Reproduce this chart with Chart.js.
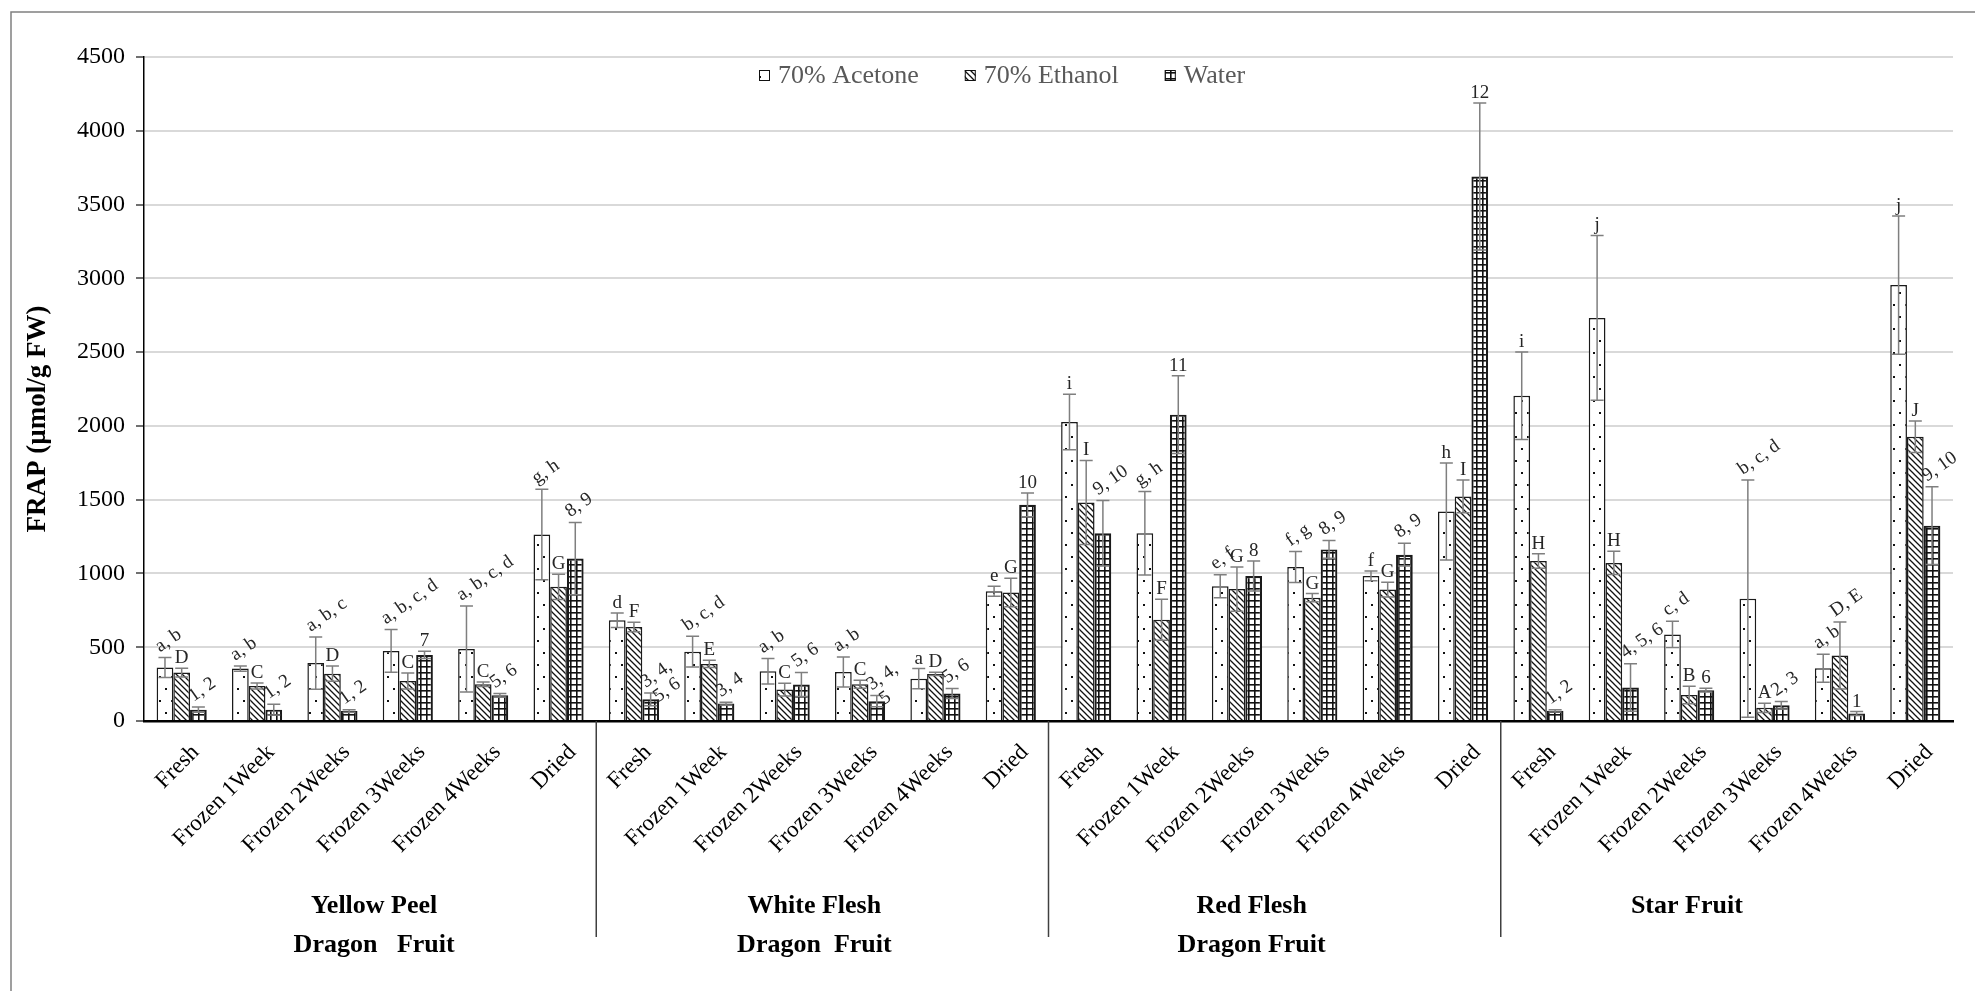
<!DOCTYPE html>
<html>
<head>
<meta charset="utf-8">
<script src="https://cdn.jsdelivr.net/npm/chart.js@4.4.1/dist/chart.umd.min.js"></script>
<style>
  html, body { margin: 0; padding: 0; background: #fff; }
  canvas { display: block; }
</style>
</head>
<body>
<canvas id="frapChart" width="1975" height="991"></canvas>
<script>
const stages = ['Fresh', 'Frozen 1Week', 'Frozen 2Weeks', 'Frozen 3Weeks', 'Frozen 4Weeks', 'Dried']
const categories = [...stages, ...stages, ...stages, ...stages]
const groups = [['Yellow Peel', 'Dragon   Fruit'], ['White Flesh', 'Dragon  Fruit'], ['Red Flesh', 'Dragon Fruit'], ['Star Fruit']]
const groupNudge = [4, -8, -23, -40]
const yTicks = [0, 500, 1000, 1500, 2000, 2500, 3000, 3500, 4000, 4500]

const seriesNames = ['70% Acetone', '70% Ethanol', 'Water']

const acetone = [362, 355, 393, 475, 488, 1264, 683, 470, 337, 332, 287, 879, 2026, 1273, 913, 1044, 983, 1420, 2204, 2732, 587, 829, 357, 2954]
const acetoneErr = [68, 18, 177, 145, 292, 307, 49, 104, 86, 102, 68, 34, 188, 283, 78, 105, 33, 329, 296, 559, 89, 804, 95, 469]
const ethanol = [328, 237, 321, 271, 249, 909, 637, 387, 213, 249, 319, 871, 1481, 686, 894, 836, 891, 1522, 1084, 1071, 176, 89, 444, 1926]
const ethanolErr = [30, 20, 52, 54, 15, 86, 32, 25, 43, 27, 11, 96, 285, 139, 150, 28, 50, 111, 49, 79, 59, 31, 227, 107]
const water = [77, 77, 68, 448, 174, 1101, 147, 118, 247, 134, 186, 1465, 1273, 2076, 983, 1163, 1127, 3690, 69, 227, 209, 107, 51, 1324]
const waterErr = [18, 36, 8, 24, 12, 245, 43, 9, 81, 38, 34, 81, 222, 263, 102, 60, 77, 498, 8, 161, 13, 26, 13, 263]

const acetoneLetters = ['a, b', 'a, b', 'a, b, c', 'a, b, c, d', 'a, b, c, d', 'g, h',
    'd', 'b, c, d', 'a, b', 'a, b', 'a', 'e',
    'i', 'g, h', 'e, f', 'f, g', 'f', 'h',
    'i', 'j', 'c, d', 'b, c, d', 'a, b', 'j']
const ethanolLetters = ['D', 'C', 'D', 'C', 'C', 'G',
    'F', 'E', 'C', 'C', 'D', 'G',
    'I', 'F', 'G', 'G', 'G', 'I',
    'H', 'H', 'B', 'A', 'D, E', 'J']
const waterLetters = ['1, 2', '1, 2', '1, 2', '7', '5, 6', '8, 9',
    '3, 4,\n5, 6', '3, 4', '5, 6', '3, 4,\n5', '5, 6', '10',
    '9, 10', '11', '8', '8, 9', '8, 9', '12',
    '1, 2', '4, 5, 6', '6', '2, 3', '1', '9, 10']

const errors = [acetoneErr, ethanolErr, waterErr]
const letters = [acetoneLetters, ethanolLetters, waterLetters]
const serif = '"Liberation Serif", "Times New Roman", serif'

function makePattern(kind) {
    const c = document.createElement('canvas')
    const p = c.getContext('2d')
    if (kind === 'dots') {
        c.width = 12; c.height = 24
        p.fillStyle = '#fff'; p.fillRect(0, 0, 12, 24)
        p.fillStyle = '#111'
        p.fillRect(3, 4, 2, 2)
        p.fillRect(9, 16, 2, 2)
    } else if (kind === 'hatch') {
        c.width = 6; c.height = 6
        p.fillStyle = '#fff'; p.fillRect(0, 0, 6, 6)
        p.strokeStyle = '#111'; p.lineWidth = 1.3
        p.beginPath()
        p.moveTo(-1, -1); p.lineTo(7, 7)
        p.moveTo(-4, 2); p.lineTo(4, 10)
        p.moveTo(2, -4); p.lineTo(10, 4)
        p.stroke()
    } else {
        c.width = 6; c.height = 6
        p.fillStyle = '#fff'; p.fillRect(0, 0, 6, 6)
        p.fillStyle = '#111'
        p.fillRect(0, 0, 6, 1.6)
        p.fillRect(0, 0, 1.6, 6)
    }
    return p.createPattern(c, 'repeat')
}

const fills = [makePattern('dots'), makePattern('hatch'), makePattern('grid')]
const borders = [1.5, 1.5, 2.2]

// frame round the whole figure
const framePlugin = {
    id: 'frame',
    beforeDraw(chart) {
        const ctx = chart.ctx
        ctx.save()
        ctx.fillStyle = '#fff'
        ctx.fillRect(0, 0, chart.width, chart.height)
        ctx.strokeStyle = '#808080'
        ctx.lineWidth = 1.5
        ctx.beginPath()
        ctx.moveTo(11, chart.height)
        ctx.lineTo(11, 12)
        ctx.lineTo(chart.width, 12)
        ctx.stroke()
        ctx.restore()
    }
}

// error bars plus the significance letters
const errorBarPlugin = {
    id: 'errorBars',
    afterDatasetsDraw(chart) {
        const ctx = chart.ctx
        const y = chart.scales.y
        chart.data.datasets.forEach((ds, i) => {
            const meta = chart.getDatasetMeta(i)
            meta.data.forEach((bar, j) => {
                const v = ds.data[j]
                const e = errors[i][j]
                const top = y.getPixelForValue(v + e)
                const bot = y.getPixelForValue(Math.max(0, v - e))
                ctx.save()
                ctx.strokeStyle = '#7f7f7f'
                ctx.lineWidth = 1.5
                ctx.beginPath()
                ctx.moveTo(bar.x, top); ctx.lineTo(bar.x, bot)
                ctx.moveTo(bar.x - 6.5, top); ctx.lineTo(bar.x + 6.5, top)
                ctx.moveTo(bar.x - 6.5, bot); ctx.lineTo(bar.x + 6.5, bot)
                ctx.stroke()

                const lines = letters[i][j].split('\n')
                ctx.fillStyle = '#262626'
                ctx.font = '19px ' + serif
                if (lines[0].includes(',')) {
                    ctx.translate(bar.x - 5, top - 5)
                    ctx.rotate(-35 * Math.PI / 180)
                    ctx.textAlign = 'left'
                    ctx.textBaseline = 'alphabetic'
                    lines.forEach((t, k) => ctx.fillText(t, k * 2, k * 19))
                } else {
                    ctx.textAlign = 'center'
                    ctx.textBaseline = 'alphabetic'
                    ctx.fillText(lines[0], bar.x, top - 5)
                }
                ctx.restore()
            })
        })
    }
}

// legend, axis title, group names and separators
const decorPlugin = {
    id: 'decor',
    afterDraw(chart) {
        const ctx = chart.ctx
        const x = chart.scales.x
        const area = chart.chartArea
        ctx.save()

        // legend
        ctx.font = '26px ' + serif
        ctx.textBaseline = 'middle'
        ctx.textAlign = 'left'
        let lx = 759
        const ly = 76
        seriesNames.forEach((name, i) => {
            ctx.fillStyle = fills[i]
            ctx.fillRect(lx, ly - 6, 11, 11)
            ctx.strokeStyle = '#111'
            ctx.lineWidth = 1
            ctx.strokeRect(lx + 0.5, ly - 5.5, 10, 10)
            ctx.fillStyle = '#595959'
            ctx.fillText(name, lx + 19, ly)
            lx += 19 + ctx.measureText(name).width + 46
        })

        // y title
        ctx.save()
        ctx.translate(38, 419)
        ctx.rotate(-Math.PI / 2)
        ctx.font = 'bold 27px ' + serif
        ctx.fillStyle = '#000'
        ctx.textAlign = 'center'
        ctx.textBaseline = 'middle'
        ctx.fillText('FRAP (µmol/g FW)', 0, 0)
        ctx.restore()

        // separators between fruits
        ctx.strokeStyle = '#404040'
        ctx.lineWidth = 1.5
        for (let g = 1; g < groups.length; g++) {
            const sx = (x.getPixelForValue(g * 6 - 1) + x.getPixelForValue(g * 6)) / 2
            ctx.beginPath()
            ctx.moveTo(sx, area.bottom)
            ctx.lineTo(sx, 937)
            ctx.stroke()
        }

        // fruit names
        ctx.font = 'bold 26px ' + serif
        ctx.fillStyle = '#000'
        ctx.textAlign = 'center'
        ctx.textBaseline = 'middle'
        groups.forEach((lines, g) => {
            const cx = (x.getPixelForValue(g * 6) + x.getPixelForValue(g * 6 + 5)) / 2 + groupNudge[g]
            lines.forEach((t, k) => ctx.fillText(t, cx, 906 + k * 39))
        })
        ctx.restore()
    }
}

const ctx = document.getElementById('frapChart').getContext('2d')
const values = [acetone, ethanol, water]
const data = {
    labels: categories,
    datasets: values.map((arr, i) => ({
        label: seriesNames[i],
        data: arr,
        backgroundColor: fills[i],
        borderColor: '#1a1a1a',
        borderWidth: borders[i],
        borderSkipped: 'bottom'
    }))
}

const config = {
    type: 'bar',
    data: data,
    options: {
        responsive: false,
        animation: false,
        devicePixelRatio: 1,
        layout: { padding: { left: 0, top: 57, right: 22, bottom: 0 } },
        datasets: { bar: { categoryPercentage: 0.665, barPercentage: 1 } },
        plugins: {
            legend: { display: false },
            tooltip: { enabled: false }
        },
        scales: {
            x: {
                grid: { display: false, drawTicks: false },
                border: { color: '#000', width: 2.5 },
                ticks: {
                    font: { family: serif, size: 23 },
                    color: '#000',
                    maxRotation: 45,
                    minRotation: 45,
                    padding: 18,
                    labelOffset: 14,
                    autoSkip: false
                },
                afterFit: s => { s.height = 270 }
            },
            y: {
                min: 0,
                max: 4500,
                afterBuildTicks: s => { s.ticks = yTicks.map(v => ({ value: v })) },
                ticks: {
                    font: { family: serif, size: 24 },
                    color: '#000',
                    padding: 11,
                    callback: v => String(v)
                },
                grid: { color: '#d9d9d9', lineWidth: 2, tickLength: 8, tickColor: '#404040', tickWidth: 1.5 },
                border: { color: '#000', width: 1.5 },
                afterFit: s => { s.width = 144 }
            }
        }
    },
    plugins: [framePlugin, errorBarPlugin, decorPlugin]
}

const frapChart = new Chart(ctx, config)
</script>
</body>
</html>
